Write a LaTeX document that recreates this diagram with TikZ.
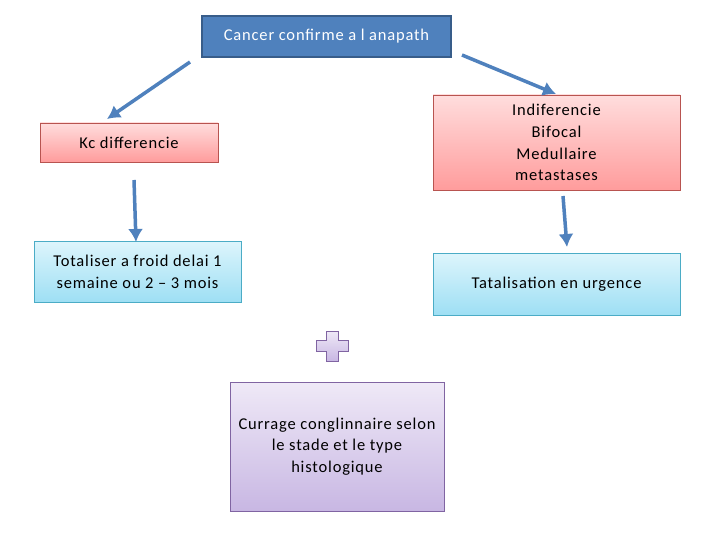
\documentclass[tikz,border=0pt]{standalone}
\usepackage{fontspec}
\setmainfont{Carlito}[LetterSpace=5]
\usetikzlibrary{arrows.meta,positioning}
\definecolor{topblue}{HTML}{4F81BD}
\definecolor{topline}{HTML}{385D8A}
\definecolor{redline}{HTML}{B85450}
\definecolor{redtop}{HTML}{FFDDDD}
\definecolor{redbot}{HTML}{FF9C9C}
\definecolor{cyanline}{HTML}{4BACC6}
\definecolor{cyantop}{HTML}{DDF5FC}
\definecolor{cyanbot}{HTML}{9EDFF4}
\definecolor{purpline}{HTML}{8064A2}
\definecolor{purptop}{HTML}{EFE9F7}
\definecolor{purpbot}{HTML}{C8B7E3}
\tikzset{x=1pt, y=-1pt,
every node/.style={font=\fontsize{16.5}{21.7}\selectfont, align=center}, % sets the text of each node
box/.style={draw, line width=0.8pt, inner sep=0pt}, % the common frame
headbox/.style={box, fill=topblue, draw=topline, line width=2pt, text=white},
redbox/.style={box, draw=redline, top color=redtop, bottom color=redbot},
cyanbox/.style={box, draw=cyanline, top color=cyantop, bottom color=cyanbot},
purpbox/.style={box, draw=purpline, top color=purptop, bottom color=purpbot},
flow/.style={-{Latex[length=13pt,width=15pt]}, line width=3.5pt, draw=topblue}, % thick blue arrows
}
\begin{document}
\begin{tikzpicture}
\useasboundingbox[fill=white] (0,0) rectangle (720,540);
\node[headbox, minimum width=249pt, minimum height=41pt] (top) at (326.5,36.5) {Cancer confirme a l anapath};
\node[redbox, minimum width=178pt, minimum height=39pt] (kc) at (129,142.5) {Kc differencie};
\node[redbox, minimum width=247pt, minimum height=95pt] (ind) at (556.5,142.5) {Indiferencie\\Bifocal\\Medullaire\\metastases};
\node[cyanbox, minimum width=207pt, minimum height=61pt] (froid) at (137.5,271.5) {Totaliser a froid delai 1\\semaine ou 2 -- 3 mois};
\node[cyanbox, minimum width=247pt, minimum height=62pt] (urg) at (556.5,284) {Tatalisation en urgence};
\node[purpbox, minimum width=214pt, minimum height=129pt] (cur) at (337,446.5) {Currage conglinnaire selon\\le stade et le type\\histologique};
% plus sign
\draw[draw=purpline, line width=0.8pt, top color=purptop, bottom color=purpbot]
  (326,331) -- (338,331) -- (338,340) -- (348,340) -- (348,351) -- (338,351) -- (338,361)
  -- (326,361) -- (326,351) -- (316,351) -- (316,340) -- (326,340) -- cycle;
% arrow ends
\coordinate (a1) at (190,62);
\coordinate (b1) at (107,119);
\coordinate (a2) at (462,55);
\coordinate (b2) at (556,94);
\coordinate (a3) at (134,180);
\coordinate (b3) at (136,242);
\coordinate (a4) at (563,196);
\coordinate (b4) at (567,247);
\draw[flow] (a1) -- (b1);
\draw[flow] (a2) -- (b2);
\draw[flow] (a3) -- (b3);
\draw[flow] (a4) -- (b4);
\end{tikzpicture}
\end{document}
